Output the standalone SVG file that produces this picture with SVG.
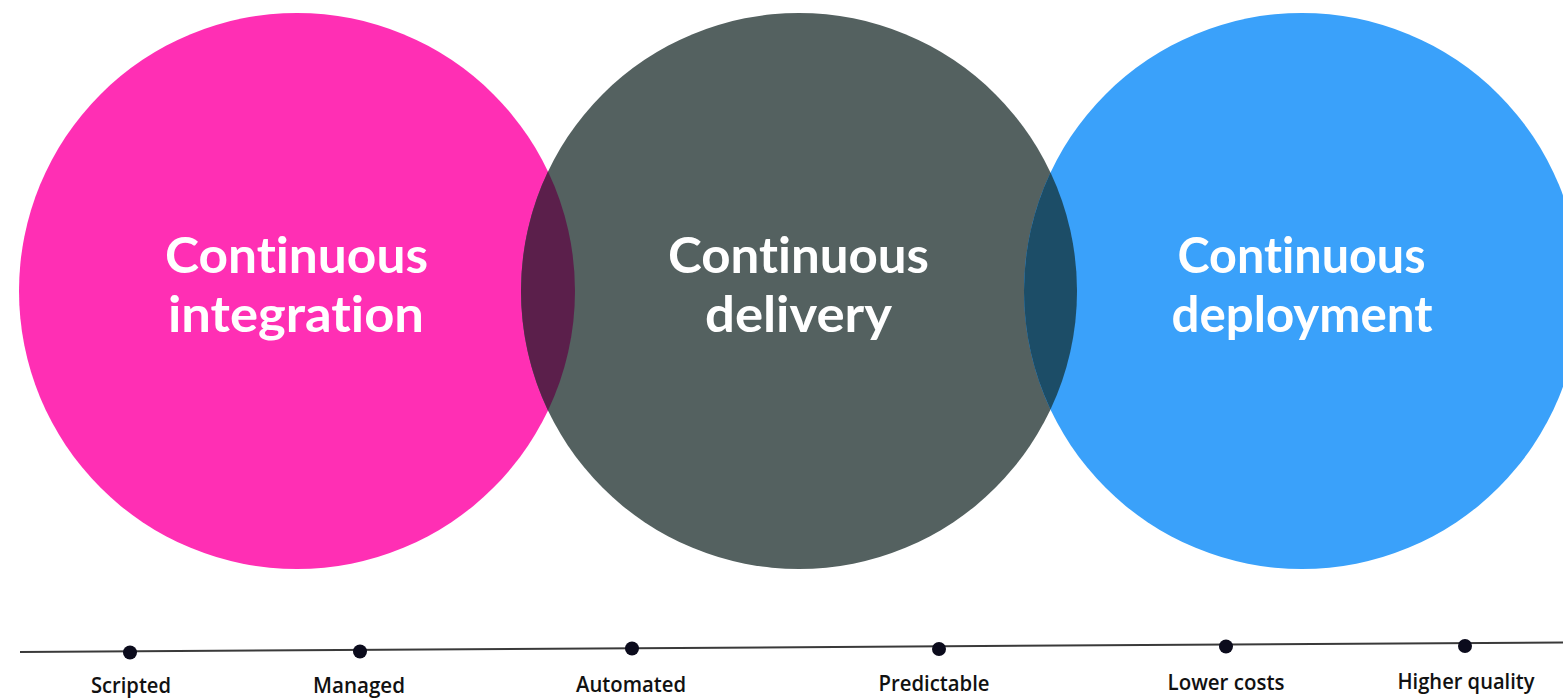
<svg xmlns="http://www.w3.org/2000/svg" width="1563" height="698" viewBox="0 0 1563 698">
  <style>
    .title { font-family: Lato, "Open Sans", "DejaVu Sans", sans-serif; font-weight: 700; font-size: 50px; fill: #ffffff; text-anchor: middle; font-variant-ligatures: none; font-feature-settings: "liga" 0, "clig" 0; }
    .step { font-family: "Open Sans", "Noto Sans", "DejaVu Sans", sans-serif; font-size: 21px; font-weight: 600; fill: #111111; text-anchor: middle; }
    .dot { fill: #0b0b1c; }
    .axis { stroke: #3a3a3a; stroke-width: 2; fill: none; }
  </style>
  <rect width="1563" height="698" fill="#ffffff"/>

  <!-- practice circles -->
  <g id="ci">
    <circle cx="297" cy="291" r="278" fill="#ff2fb4"/>
  </g>
  <g id="cd">
    <circle cx="799" cy="291" r="278" fill="#546160"/>
  </g>
  <g id="cdep">
    <circle cx="1302" cy="291" r="278" fill="#3aa1fa"/>
  </g>

  <!-- overlap lenses -->
  <g id="overlap-ci-cd">
    <path d="M548,171.5 A278,278 0 0 1 548,410.5 A278,278 0 0 1 548,171.5 Z" fill="#5b1f4b"/>
  </g>
  <g id="overlap-cd-cdep">
    <path d="M1050.5,172.5 A278,278 0 0 1 1050.5,409.5 A278,278 0 0 1 1050.5,172.5 Z" fill="#1c4d67"/>
  </g>

  <!-- circle titles -->
  <g id="ci-label">
    <text class="title" x="296.5" y="273" textLength="263" lengthAdjust="spacingAndGlyphs">Continuous</text>
    <text class="title" x="296" y="332" textLength="256" lengthAdjust="spacingAndGlyphs">integration</text>
  </g>
  <g id="cd-label">
    <text class="title" x="798.5" y="273" textLength="261" lengthAdjust="spacingAndGlyphs">Continuous</text>
    <text class="title" x="798.5" y="332" textLength="187" lengthAdjust="spacingAndGlyphs">delivery</text>
  </g>
  <g id="cdep-label">
    <text class="title" x="1301.5" y="273" textLength="248" lengthAdjust="spacingAndGlyphs">Continuous</text>
    <text class="title" x="1302" y="332" textLength="261" lengthAdjust="spacingAndGlyphs">deployment</text>
  </g>

  <!-- timeline axis -->
  <g id="connectors">
    <line class="axis" x1="20" y1="652" x2="1563" y2="642.5"/>
  </g>

  <!-- milestones -->
  <g id="m-scripted">
    <circle class="dot" cx="130" cy="652.5" r="7"/>
    <text class="step" x="131" y="693" textLength="80" lengthAdjust="spacingAndGlyphs">Scripted</text>
  </g>
  <g id="m-managed">
    <circle class="dot" cx="360" cy="651.5" r="7"/>
    <text class="step" x="359" y="692.5" textLength="92" lengthAdjust="spacingAndGlyphs">Managed</text>
  </g>
  <g id="m-automated">
    <circle class="dot" cx="632" cy="648.5" r="7"/>
    <text class="step" x="631" y="691.5" textLength="110" lengthAdjust="spacingAndGlyphs">Automated</text>
  </g>
  <g id="m-predictable">
    <circle class="dot" cx="939" cy="649" r="7"/>
    <text class="step" x="934" y="691" textLength="111" lengthAdjust="spacingAndGlyphs">Predictable</text>
  </g>
  <g id="m-lower-costs">
    <circle class="dot" cx="1226" cy="646.5" r="7"/>
    <text class="step" x="1226" y="690" textLength="117" lengthAdjust="spacingAndGlyphs">Lower costs</text>
  </g>
  <g id="m-higher-quality">
    <circle class="dot" cx="1465" cy="646" r="7"/>
    <text class="step" x="1466" y="689" textLength="137" lengthAdjust="spacingAndGlyphs">Higher quality</text>
  </g>
</svg>
